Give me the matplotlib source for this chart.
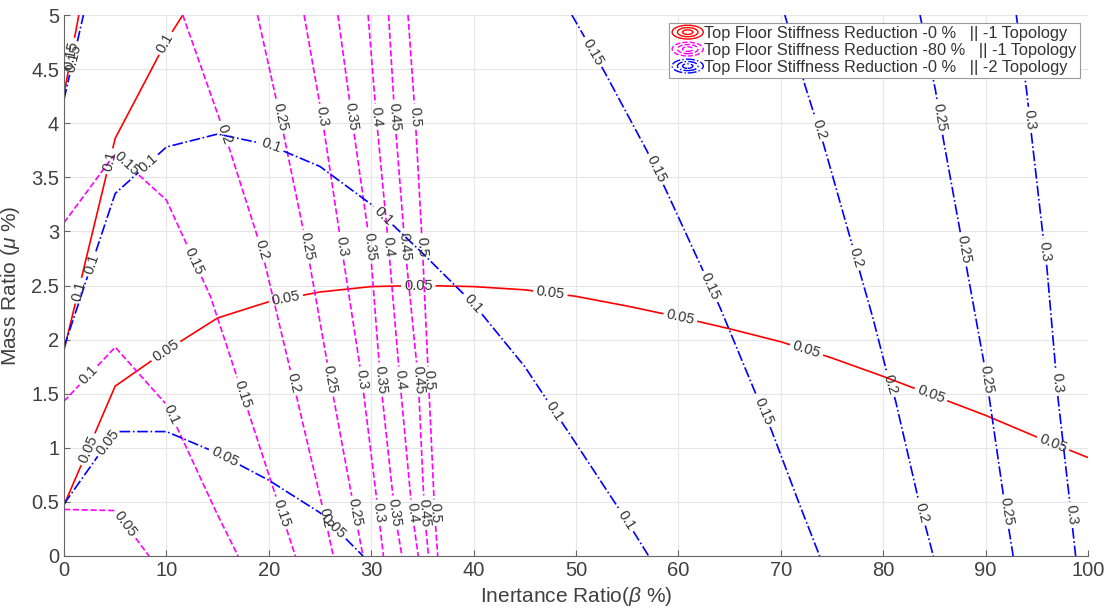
import matplotlib
matplotlib.use('Agg')
import matplotlib.pyplot as plt
from matplotlib.contour import ContourSet
from matplotlib.lines import Line2D
from matplotlib.patches import Ellipse
from matplotlib.legend_handler import HandlerBase
from matplotlib.ticker import FormatStrFormatter
import numpy as np

plt.rcParams['font.family'] = ['Liberation Sans', 'DejaVu Sans']
plt.rcParams['mathtext.fontset'] = 'custom'
plt.rcParams['mathtext.rm'] = 'Liberation Sans'
plt.rcParams['mathtext.it'] = 'Liberation Sans:italic'

# --- contour lines (beta %, mu %) ---
# red: 0 % reduction, topology 1
red_levels = [0.05, 0.1, 0.15]
red_005_x = [0, 5, 10, 15, 20, 25, 30, 35, 40, 45, 50, 55, 60, 65, 70, 75, 80, 85, 90, 95, 100]
red_005_y = [0.47, 1.57, 1.90, 2.20, 2.35, 2.44, 2.49, 2.50, 2.49, 2.46, 2.40, 2.31, 2.21, 2.10, 1.98, 1.83, 1.66, 1.48, 1.30, 1.10, 0.91]
red_010_x = [0, 5, 10, 11.6]
red_010_y = [1.90, 3.86, 4.76, 5.0]
red_015_x = [0, 1.45]
red_015_y = [4.27, 5.0]

# magenta: 80 % reduction, topology 1
mag_levels = [0.05, 0.1, 0.15, 0.2, 0.25, 0.3, 0.35, 0.4, 0.45, 0.5]
mag_005_x = [0, 5, 8.3]
mag_005_y = [0.43, 0.42, 0]
mag_010_x = [0, 5, 10, 15, 17.0]
mag_010_y = [1.43, 1.93, 1.40, 0.38, 0]
mag_015_x = [0, 5, 10, 14.3, 17.5, 20.8, 22.6]
mag_015_y = [3.08, 3.72, 3.29, 2.40, 1.48, 0.52, 0]
mag_020_x = [11.6, 15.7, 19.3, 22.4, 25.5, 26.3]
mag_020_y = [5.0, 3.90, 2.83, 1.60, 0.35, 0]
mag_mu = [5.0, 4.06, 2.86, 1.63, 0.40, 0]
mag_025_x = [18.9, 21.1, 23.7, 26.0, 28.4, 29.2]
mag_030_x = [23.45, 25.2, 27.1, 29.1, 30.7, 31.2]
mag_035_x = [26.75, 28.1, 29.9, 30.9, 32.3, 33.0]
mag_040_x = [29.7, 30.5, 31.7, 32.8, 34.0, 34.6]
mag_045_x = [31.7, 32.3, 33.3, 34.6, 35.2, 35.6]
mag_050_x = [33.6, 34.3, 35.0, 35.6, 36.2, 36.5]

# blue: 0 % reduction, topology 2
blue_levels = [0.05, 0.1, 0.15, 0.2, 0.25, 0.3]
blue_005_x = [0, 5, 10, 15, 20, 25, 29.2]
blue_005_y = [0.48, 1.15, 1.15, 0.95, 0.70, 0.40, 0]
blue_010_x = [0, 5, 10, 15, 20, 25, 30, 35, 40, 45, 50, 55, 57.1]
blue_010_y = [1.93, 3.35, 3.78, 3.90, 3.80, 3.60, 3.25, 2.80, 2.33, 1.75, 1.04, 0.32, 0]
blue_015a_x = [0, 1.9]
blue_015a_y = [4.22, 5.0]
blue_015b_x = [49.6, 52.7, 56.9, 58.7, 62.4, 64.1, 67.6, 69.1, 71.9, 73.8]
blue_015b_y = [5.0, 4.49, 3.75, 3.40, 2.64, 2.29, 1.49, 1.16, 0.46, 0]
blue_020_x = [70.4, 72.4, 74.2, 76.9, 79.0, 80.3, 81.2, 83.4, 84.9]
blue_020_y = [5.0, 4.34, 3.80, 2.90, 2.20, 1.72, 1.44, 0.54, 0]
blue_025_x = [83.6, 85.1, 85.9, 87.5, 88.2, 89.8, 90.4, 91.7, 92.7]
blue_025_y = [5.0, 4.31, 3.84, 3.01, 2.64, 1.81, 1.44, 0.59, 0]
blue_030_x = [93.0, 94.0, 94.5, 95.6, 96.0, 96.8, 97.1, 98.2, 98.8]
blue_030_y = [5.0, 4.31, 3.88, 2.97, 2.66, 1.78, 1.44, 0.52, 0]

legend_labels = ['Top Floor Stiffness Reduction -0 %   || -1 Topology',
                 'Top Floor Stiffness Reduction -80 %   || -1 Topology',
                 'Top Floor Stiffness Reduction -0 %   || -2 Topology']

# where the inline labels sit
red_label_at = [(2.5, 0.98), (9.9, 1.90), (21.7, 2.37), (34.6, 2.50), (47.5, 2.43),
                (60.2, 2.21), (72.5, 1.90), (84.7, 1.50), (96.6, 1.04),
                (1.5, 2.45), (4.4, 3.65), (9.9, 4.74), (0.8, 4.63)]
mag_label_at = [(6.1, 0.3), (2.4, 1.67), (10.4, 1.30),
                (6.0, 3.62), (12.6, 2.72), (17.5, 1.50), (21.3, 0.40),
                (15.7, 3.9), (19.3, 2.83), (22.4, 1.6), (25.5, 0.35),
                (21.1, 4.06), (23.7, 2.86), (26.0, 1.63), (28.4, 0.4),
                (25.2, 4.06), (27.1, 2.86), (29.1, 1.63), (30.7, 0.4),
                (28.1, 4.06), (29.9, 2.86), (30.9, 1.63), (32.3, 0.4),
                (30.5, 4.06), (31.7, 2.86), (32.8, 1.63), (34.0, 0.4),
                (32.3, 4.06), (33.3, 2.86), (34.6, 1.63), (35.2, 0.4),
                (34.3, 4.06), (35.0, 2.86), (35.6, 1.63), (36.2, 0.4)]
blue_label_at = [(4.3, 1.05), (15.7, 0.92), (26.3, 0.27),
                 (2.7, 2.70), (8.2, 3.63), (20.3, 3.80), (31.2, 3.15), (40, 2.33), (48, 1.35), (54.9, 0.33),
                 (1.0, 4.6), (51.7, 4.66), (57.7, 3.57), (63.1, 2.49), (68.1, 1.33),
                 (73.5, 3.94), (77.1, 2.75), (80.5, 1.58), (83.8, 0.40),
                 (85.5, 4.05), (87.7, 2.83), (89.9, 1.63), (92.1, 0.41),
                 (94.3, 4.03), (95.6, 2.81), (96.9, 1.60), (98.4, 0.38)]


def seg(x, y):
    return np.column_stack([x, y])


class ContourIcon(HandlerBase):
    # concentric ellipses like the matlab contour legend icon
    def create_artists(self, legend, orig, xd, yd, w, h, fontsize, trans):
        cx = -xd + w / 2
        cy = -yd + h / 2
        out = []
        for f in (1.0, 0.66, 0.33):
            e = Ellipse((cx, cy), w * f, h * 1.2 * f, fill=False,
                        edgecolor=orig.get_color(), linestyle=orig.get_linestyle(),
                        lw=1.0, transform=trans)
            out.append(e)
        return out


fig = plt.figure(figsize=(11.09, 6.13), dpi=100)
ax = fig.add_axes([0.0577, 0.093, 0.9233, 0.8825])
ax.set_xlim(0, 100)
ax.set_ylim(0, 5)
ax.set_xticks(np.arange(0, 101, 10))
ax.set_yticks(np.arange(0, 5.01, 0.5))
ax.yaxis.set_major_formatter(FormatStrFormatter('%g'))
ax.grid(True, color='#e6e6e6', lw=0.8)
ax.set_axisbelow(True)
for s in ['top', 'right']:
    ax.spines[s].set_visible(False)
for s in ['left', 'bottom']:
    ax.spines[s].set_color('#666666')
    ax.spines[s].set_linewidth(0.8)
ax.tick_params(direction='in', length=4, color='#666666', labelcolor='#404040', labelsize=14.5)

cs_red = ContourSet(ax, red_levels,
                    [[seg(red_005_x, red_005_y)], [seg(red_010_x, red_010_y)], [seg(red_015_x, red_015_y)]],
                    colors='#ff0000', linestyles='solid', linewidths=1.2)
mag_segs = [[seg(mag_005_x, mag_005_y)], [seg(mag_010_x, mag_010_y)], [seg(mag_015_x, mag_015_y)],
            [seg(mag_020_x, mag_020_y)]]
for xs in [mag_025_x, mag_030_x, mag_035_x, mag_040_x, mag_045_x, mag_050_x]:
    mag_segs.append([seg(xs, mag_mu)])
cs_mag = ContourSet(ax, mag_levels, mag_segs, colors='#ff00ff', linestyles='dashed', linewidths=1.2)
cs_blue = ContourSet(ax, blue_levels,
                     [[seg(blue_005_x, blue_005_y)], [seg(blue_010_x, blue_010_y)],
                      [seg(blue_015a_x, blue_015a_y), seg(blue_015b_x, blue_015b_y)],
                      [seg(blue_020_x, blue_020_y)], [seg(blue_025_x, blue_025_y)],
                      [seg(blue_030_x, blue_030_y)]],
                     colors='#0000ff', linestyles='dashdot', linewidths=1.2)

for cs, pos in [(cs_red, red_label_at), (cs_mag, mag_label_at), (cs_blue, blue_label_at)]:
    cs.clabel(fmt='%g', fontsize=10.5, colors='#333333', inline=True, inline_spacing=3, manual=pos)

ax.set_xlim(0, 100)
ax.set_ylim(0, 5)

ax.set_xlabel('Inertance Ratio($\\beta$ %)', fontsize=15, color='#404040', labelpad=4)
ax.set_ylabel('Mass Ratio ($\\mu$ %)', fontsize=15, color='#404040')
ax.yaxis.set_label_coords(-0.041, 0.5)

handles = [Line2D([], [], color='#ff0000', ls='-'),
           Line2D([], [], color='#ff00ff', ls='--'),
           Line2D([], [], color='#0000ff', ls='-.')]
leg = ax.legend(handles, legend_labels, loc='upper right', bbox_to_anchor=(0.992, 0.986),
                borderaxespad=0, fontsize=11.8, handler_map={Line2D: ContourIcon()},
                handlelength=1.9, handletextpad=0.05, labelspacing=0.12, borderpad=0.2,
                fancybox=False, framealpha=1, edgecolor='#999999')
leg.get_frame().set_linewidth(0.8)
for t in leg.get_texts():
    t.set_color('#333333')

fig.savefig('out.png', dpi=100)
